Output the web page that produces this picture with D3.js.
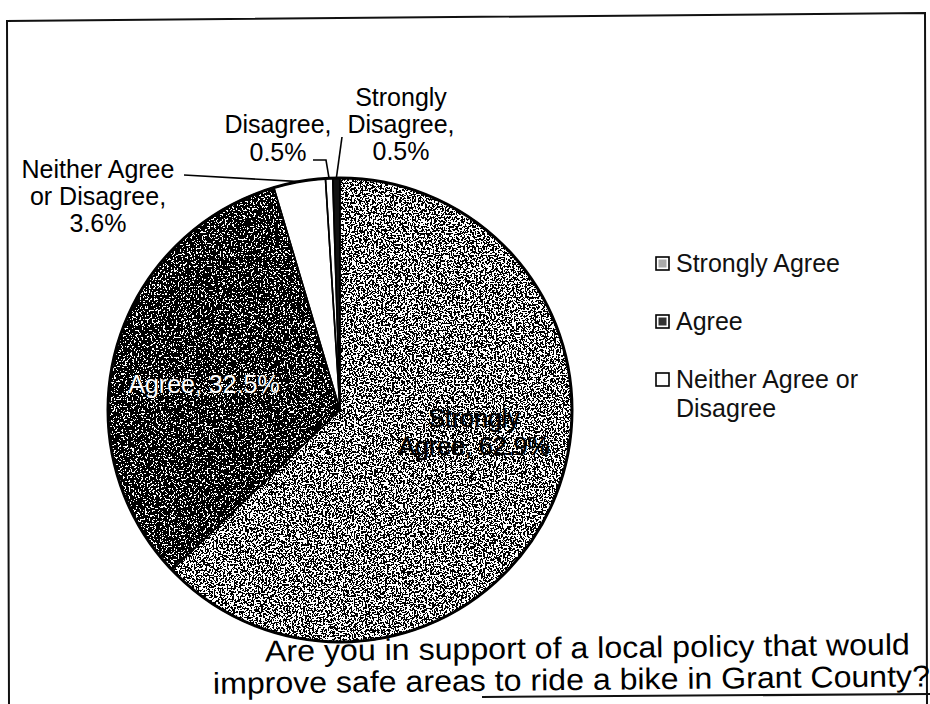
<!DOCTYPE html>
<html>
<head>
<meta charset="utf-8">
<script src="https://cdn.jsdelivr.net/npm/d3@7"></script>
<style>
  html, body { margin: 0; padding: 0; background: #fff; }
  svg { display: block; }
  text { font-family: "Liberation Sans", Arial, sans-serif; }
</style>
</head>
<body>
<svg id="chart" width="930" height="704"></svg>
<script>
// ---- data ----
const categories = ["Strongly Agree", "Agree", "Neither Agree or Disagree", "Disagree", "Strongly Disagree"];
const values = [62.9, 32.5, 3.6, 0.5, 0.5];
const sliceLabelLines = [
  ["Strongly", "Agree, 62.9%"],
  ["Agree, 32.5%"],
  ["Neither Agree", "or Disagree,", "3.6%"],
  ["Disagree,", "0.5%"],
  ["Strongly", "Disagree,", "0.5%"]
];
const legendLines = [["Strongly Agree"], ["Agree"], ["Neither Agree or", "Disagree"]];
const titleLines = ["Are you in support of a local policy that would",
                    "improve safe areas to ride a bike in Grant County?"];

// ---- layout ----
const W = 930, H = 704;
const cx = 340, cy = 410, R = 232;
const labelPos = [
  {x: 474, y: 427, anchor: "middle", lh: 28, fill: "#000"},
  {x: 204, y: 393, anchor: "middle", lh: 28, fill: "#fff"},
  {x: 98,  y: 178, anchor: "middle", lh: 27, fill: "#000"},
  {x: 278, y: 133, anchor: "middle", lh: 28, fill: "#000"},
  {x: 401, y: 106, anchor: "middle", lh: 27, fill: "#000"}
];
const leaderStart = [null, null, [[184, 175]], [[313, 160], [326, 160]], [[342, 137]]];

const svg = d3.select("#chart");
const defs = svg.append("defs");

function ditherFilter(id, zeros, freq, seed) {
  const table = d3.range(20).map(k => (k < zeros ? 0 : 1)).join(" ");
  const f = defs.append("filter").attr("id", id)
    .attr("x", 0).attr("y", 0).attr("width", 1).attr("height", 1)
    .attr("filterUnits", "objectBoundingBox");
  f.append("feTurbulence").attr("type", "fractalNoise").attr("baseFrequency", freq)
    .attr("numOctaves", 2).attr("seed", seed).attr("result", "t");
  f.append("feColorMatrix").attr("in", "t").attr("type", "matrix")
    .attr("values", "1 0 0 0 0  1 0 0 0 0  1 0 0 0 0  0 0 0 0 1").attr("result", "g");
  const ct = f.append("feComponentTransfer").attr("in", "g").attr("result", "d");
  ["feFuncR", "feFuncG", "feFuncB"].forEach(fn =>
    ct.append(fn).attr("type", "discrete").attr("tableValues", table));
  f.append("feComposite").attr("in", "d").attr("in2", "SourceGraphic").attr("operator", "in");
}
ditherFilter("ditherLight", 10, 0.55, 4);
ditherFilter("ditherDark", 12, 0.55, 9);

const fills = ["#8f8f8f", "#2e2e2e", "#ffffff", "#ffffff", "#111111"];
const filters = ["url(#ditherLight)", "url(#ditherDark)", null, null, null];

// ---- frame (scan border) ----
const frame = d3.line();
svg.append("path").attr("d", frame([[9, 704], [7, 21], [925, 13], [927, 704]]))
  .attr("fill", "none").attr("stroke", "#111").attr("stroke-width", 2);
svg.append("path").attr("d", frame([[482, 697], [930, 694]]))
  .attr("fill", "none").attr("stroke", "#111").attr("stroke-width", 2);

// ---- pie ----
const pie = d3.pie().sort(null).value(d => d).startAngle(0).endAngle(2 * Math.PI);
const arcs = pie(values);
const arc = d3.arc().innerRadius(0).outerRadius(R);
const rimArc = d3.arc().innerRadius(R).outerRadius(R);

const g = svg.append("g").attr("transform", `translate(${cx},${cy})`);
g.selectAll("path.fill").data(arcs).join("path")
  .attr("class", "fill")
  .attr("d", arc)
  .attr("fill", (d, i) => fills[i])
  .attr("filter", (d, i) => filters[i]);
g.selectAll("path.edge").data(arcs).join("path")
  .attr("class", "edge")
  .attr("d", arc)
  .attr("fill", "none")
  .attr("stroke", "#000")
  .attr("stroke-width", 1.6)
  .attr("stroke-linejoin", "round");
g.append("circle").attr("r", R).attr("fill", "none").attr("stroke", "#000").attr("stroke-width", 3);

// ---- leader lines ----
const line = d3.line();
arcs.forEach((d, i) => {
  if (!leaderStart[i]) return;
  const [px, py] = rimArc.centroid(d);
  const pts = leaderStart[i].concat([[cx + px, cy + py]]);
  svg.append("path").attr("d", line(pts)).attr("fill", "none")
    .attr("stroke", "#000").attr("stroke-width", 1.6);
});

// ---- slice labels ----
sliceLabelLines.forEach((lines, i) => {
  const p = labelPos[i];
  const t = svg.append("text")
    .attr("x", p.x).attr("y", p.y)
    .attr("text-anchor", p.anchor)
    .attr("font-size", 25)
    .attr("fill", p.fill);
  if (i === 0) t.attr("stroke", "#000").attr("stroke-width", 0.5);
  if (i === 1) t.attr("stroke", "#000").attr("stroke-width", 0.6).attr("paint-order", "stroke");
  lines.forEach((s, k) => t.append("tspan").attr("x", p.x).attr("dy", k === 0 ? 0 : p.lh).text(s));
});

// ---- legend ----
const legendY = [272, 330, 388];
const legend = svg.append("g");
legendLines.forEach((lines, i) => {
  const y = legendY[i];
  legend.append("rect").attr("x", 656).attr("y", y - 15).attr("width", 13).attr("height", 13)
    .attr("fill", "#fff").attr("stroke", "#000").attr("stroke-width", 1.6);
  if (i < 2) {
    legend.append("rect").attr("x", 658.5).attr("y", y - 12.5).attr("width", 8).attr("height", 8)
      .attr("fill", i === 0 ? "#aaa" : "#333");
  }
  const t = legend.append("text").attr("x", 676).attr("y", y).attr("font-size", 25).attr("fill", "#111");
  lines.forEach((s, k) => t.append("tspan").attr("x", 676).attr("dy", k === 0 ? 0 : 29).text(s));
});

// ---- title (slightly skewed like the scan) ----
const titleX = [265, 213], titleY = [658, 690], titleW = [645, 717];
titleLines.forEach((s, i) => {
  const mx = titleX[i] + titleW[i] / 2;
  svg.append("text").attr("x", titleX[i]).attr("y", titleY[i])
    .attr("font-size", 30).attr("fill", "#000")
    .attr("textLength", titleW[i]).attr("lengthAdjust", "spacingAndGlyphs")
    .attr("transform", `rotate(-0.6, ${mx}, ${titleY[i]})`)
    .text(s);
});
</script>
</body>
</html>
